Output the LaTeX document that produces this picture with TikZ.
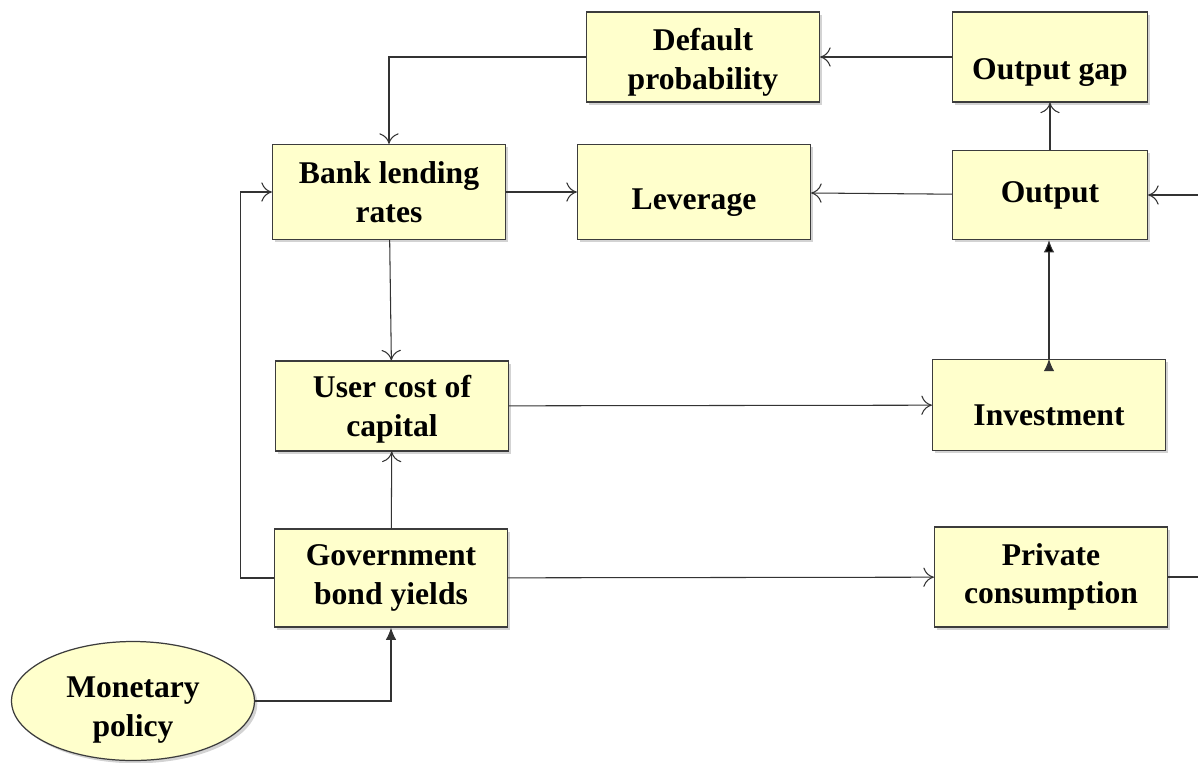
\documentclass[tikz,border=0pt]{standalone}
\usepackage{fontspec}
\setmainfont{Liberation Serif}
\usetikzlibrary{arrows.meta,shapes.geometric,shadows}

\definecolor{boxfill}{RGB}{255,255,204}
\definecolor{boxline}{RGB}{60,60,60}
% strut that pushes a label down inside its box
\newcommand{\lowerby}[1]{\rule{0pt}{#1}}

\begin{document}
\begin{tikzpicture}[x=0.02cm, y=-0.02cm,
	font=\fontsize{18}{22}\selectfont\bfseries,
	block/.style={draw=boxline, fill=boxfill, line width=0.7pt, align=center,
		minimum width=4.66cm, minimum height=1.84cm,
		drop shadow={shadow xshift=1.6pt, shadow yshift=-1.6pt, opacity=0.35}},
	smallblock/.style={block, minimum width=3.9cm},
	oval/.style={ellipse, draw=boxline, fill=boxfill, line width=0.7pt, align=center,
		minimum width=4.86cm, minimum height=2.36cm, inner sep=0pt,
		drop shadow={shadow xshift=1.6pt, shadow yshift=-1.6pt, opacity=0.35}},
	link/.style={draw=black!80, line width=0.6pt},
	>={To[length=6pt, width=11pt]}]
\useasboundingbox (0,0) rectangle (1198,762);

% top row
\node[block, minimum height=1.8cm] (dp) at (703,57) {\lowerby{18.6pt}Default\\probability};
\node[smallblock, minimum height=1.8cm] (gap) at (1050,57) {\lowerby{30pt}Output gap};
% second row
\node[block, minimum height=1.9cm] (bank) at (389,192) {Bank lending\\rates};
\node[block, minimum height=1.9cm] (lev) at (694,192) {\lowerby{24pt}Leverage};
\node[smallblock, minimum height=1.78cm] (out) at (1050,195) {Output};
% third row
\node[block, minimum height=1.8cm] (ucc) at (392,406) {\lowerby{16.3pt}User cost of\\capital};
\node[block, minimum height=1.82cm] (inv) at (1049,405) {\lowerby{23pt}Investment};
% bottom row
\node[block, minimum height=1.96cm] (gov) at (391,578) {Government\\bond yields};
\node[block, minimum height=2cm] (pc) at (1051,577) {Private\\consumption};
\node[oval] (mp) at (133,701) {\lowerby{22pt}Monetary\\policy};

\coordinate (rin) at (1198,195);
\coordinate (pout) at (1198,577);

\path[link, ->]
(gap) edge (dp)
(out) edge (gap)
(out) edge (lev)
(bank) edge (lev)
(bank) edge (ucc)
(gov) edge (ucc)
(ucc) edge (inv)
(gov) edge (pc);
\path[link, -{Latex[length=7pt, width=6pt]}]
(inv.north) edge (inv.north |- out.south);
\draw[link, ->] (rin) -- (out.east);
\draw[link] (pc.east) -- (pout);
\draw[link, ->] (dp.west) -| (bank.north);
\draw[link, ->] (gov.west) -- ++(-33,0) |- (bank.west);
\draw[link, -{Latex[length=7pt, width=6pt]}] (mp.east) -| (gov.south);
\end{tikzpicture}
\end{document}
